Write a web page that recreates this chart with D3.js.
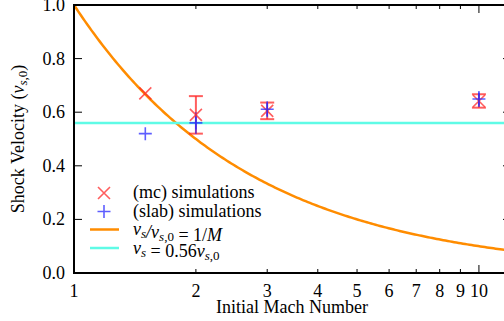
<!DOCTYPE html>
<html><head><meta charset="utf-8">
<script src="https://cdn.jsdelivr.net/npm/d3@7"></script>
<style>
html,body{margin:0;padding:0;background:#fff;}
svg{display:block;}
</style></head>
<body>
<svg id="chart" width="504" height="321"></svg>
<script>
// Data
const mcMach = [1.5, 2, 3, 10];
const mcVel  = [0.67, 0.59, 0.605, 0.642];
const mcErr  = [0, 0.07, 0.031, 0.025];
const slabMach = [1.5, 2, 3, 10];
const slabVel  = [0.52, 0.56, 0.611, 0.649];
const slabErr  = [0, 0.04, 0.03, 0.03];
const constVel = 0.56;
const xTicks = [1,2,3,4,5,6,7,8,9,10];
const xMajor = [1,10];
const yTicks = [0,0.2,0.4,0.6,0.8,1.0];

const FF = '"Liberation Serif"';
const svg = d3.select("#chart").style("font-family", FF);
const L=74, T=5, R=511, B=273;
const x = d3.scaleLog().domain([1,12]).range([L,R]);
const y = d3.scaleLinear().domain([0,1]).range([B,T]);

const red="rgba(255,40,40,0.75)", blue="rgba(40,40,255,0.75)";
const orange="#ff8c00", cyan="#5ffbe6";

svg.append("clipPath").attr("id","clip").append("rect")
  .attr("x",L).attr("y",T).attr("width",R-L).attr("height",B-T);
const g = svg.append("g").attr("clip-path","url(#clip)");

// 1/M curve
const curve = d3.range(0,201).map(i=>Math.pow(12,i/200));
g.append("path").datum(curve)
  .attr("d", d3.line().x(d=>x(d)).y(d=>y(1/d)))
  .attr("fill","none").attr("stroke",orange).attr("stroke-width",2.5);
// constant line
g.append("line").attr("x1",x(1)).attr("x2",x(12)).attr("y1",y(constVel)).attr("y2",y(constVel))
  .attr("stroke",cyan).attr("stroke-width",2.5);

// error bars mc
const cap=7;
mcMach.forEach((m,i)=>{
  if(mcErr[i]>0){
    const cx=x(m), y1=y(mcVel[i]+mcErr[i]), y2=y(mcVel[i]-mcErr[i]);
    g.append("line").attr("x1",cx).attr("x2",cx).attr("y1",y1).attr("y2",y2).attr("stroke",red).attr("stroke-width",2);
    g.append("line").attr("x1",cx-cap).attr("x2",cx+cap).attr("y1",y1).attr("y2",y1).attr("stroke",red).attr("stroke-width",2);
    g.append("line").attr("x1",cx-cap).attr("x2",cx+cap).attr("y1",y2).attr("y2",y2).attr("stroke",red).attr("stroke-width",2);
  }
});
// slab error bars
slabMach.forEach((m,i)=>{
  if(slabErr[i]>0){
    const cx=x(m);
    g.append("line").attr("x1",cx).attr("x2",cx).attr("y1",y(slabVel[i]+slabErr[i])).attr("y2",y(slabVel[i]-slabErr[i])).attr("stroke",blue).attr("stroke-width",1.5);
  }
});
function cross(sel,cx,cy,s,col){
  sel.append("path").attr("d",`M${cx-s},${cy-s}L${cx+s},${cy+s}M${cx-s},${cy+s}L${cx+s},${cy-s}`)
    .attr("stroke",col).attr("stroke-width",1.6).attr("fill","none");
}
function plus(sel,cx,cy,s,col){
  sel.append("path").attr("d",`M${cx-s},${cy}L${cx+s},${cy}M${cx},${cy-s}L${cx},${cy+s}`)
    .attr("stroke",col).attr("stroke-width",1.6).attr("fill","none");
}
mcMach.forEach((m,i)=>cross(g,x(m),y(mcVel[i]),6,red));
slabMach.forEach((m,i)=>plus(g,x(m),y(slabVel[i]),6.5,blue));

// frame
svg.append("rect").attr("x",L).attr("y",T).attr("width",R-L).attr("height",B-T)
  .attr("fill","none").attr("stroke","#000").attr("stroke-width",2);

// ticks
const tk = svg.append("g").attr("stroke","#000").attr("stroke-width",1);
xTicks.forEach(t=>{
  const len = xMajor.includes(t)?8:4;
  tk.append("line").attr("x1",x(t)).attr("x2",x(t)).attr("y1",B).attr("y2",B-len);
  tk.append("line").attr("x1",x(t)).attr("x2",x(t)).attr("y1",T).attr("y2",T+len);
});
yTicks.forEach(t=>{
  tk.append("line").attr("x1",L).attr("x2",L+8).attr("y1",y(t)).attr("y2",y(t));
  tk.append("line").attr("x1",R).attr("x2",R-8).attr("y1",y(t)).attr("y2",y(t));
});
const fs=18, fsub=13;
svg.append("g").selectAll("text").data(xTicks).join("text")
  .attr("x",d=>x(d)).attr("y",B+24).attr("text-anchor","middle")
  .attr("font-size",fs).text(d=>d);
svg.append("g").selectAll("text").data(yTicks).join("text")
  .attr("x",L-9).attr("y",d=>y(d)+6).attr("text-anchor","end")
  .attr("font-size",fs).text(d=>d.toFixed(1));

svg.append("text").attr("x",292).attr("y",313).attr("text-anchor","middle")
  .attr("font-size",fs).text("Initial Mach Number");

// y label
const yl = svg.append("text").attr("transform","translate(24,139) rotate(-90)")
  .attr("text-anchor","middle").attr("font-size",fs);
yl.append("tspan").text("Shock Velocity (");
yl.append("tspan").attr("font-style","italic").text("v");
yl.append("tspan").attr("font-size",fsub).attr("dy",3).attr("font-style","italic").text("s");
yl.append("tspan").attr("font-size",fsub).text(",0");
yl.append("tspan").attr("dy",-3).text(")");

// legend
const lx=133, ly0=198, dy=18.5;
cross(svg,104,ly0-5,6,red);
plus(svg,104,ly0+dy-5,6.5,blue);
svg.append("line").attr("x1",90).attr("x2",119).attr("y1",ly0+2*dy-5.5).attr("y2",ly0+2*dy-5.5).attr("stroke",orange).attr("stroke-width",2.5);
svg.append("line").attr("x1",90).attr("x2",119).attr("y1",ly0+3*dy-5.5).attr("y2",ly0+3*dy-5.5).attr("stroke",cyan).attr("stroke-width",2.5);
svg.append("text").attr("x",lx).attr("y",ly0).attr("font-size",fs).text("(mc) simulations");
svg.append("text").attr("x",lx).attr("y",ly0+dy).attr("font-size",fs).text("(slab) simulations");
function vsub(t,sub){
  t.append("tspan").attr("font-style","italic").text("v");
  t.append("tspan").attr("font-size",fsub).attr("dy",3).attr("font-style","italic").text("s");
  if(sub) t.append("tspan").attr("font-size",fsub).text(",0");
  t.append("tspan").attr("dy",-3).text("");
}
const t3 = svg.append("text").attr("x",lx).attr("y",ly0+2*dy).attr("font-size",fs);
vsub(t3,false); t3.append("tspan").attr("font-style","italic").text("/");
vsub(t3,true); t3.append("tspan").text(" = 1/"); t3.append("tspan").attr("font-style","italic").text("M");
const t4 = svg.append("text").attr("x",lx).attr("y",ly0+3*dy).attr("font-size",fs);
vsub(t4,false); t4.append("tspan").text(" = 0.56"); vsub(t4,true);

svg.selectAll("text").style("font-family", FF);
</script>
</body></html>
